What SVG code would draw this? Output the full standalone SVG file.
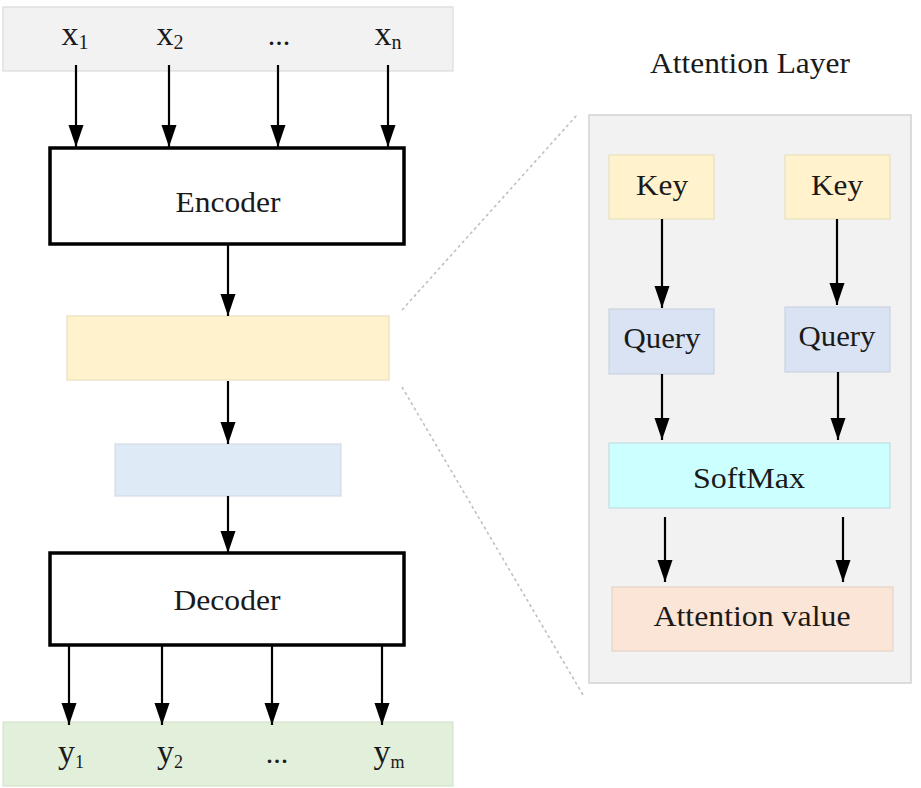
<svg xmlns="http://www.w3.org/2000/svg" width="921" height="788" viewBox="0 0 921 788">
<defs>
<marker id="arr" markerUnits="userSpaceOnUse" markerWidth="22" markerHeight="16" refX="22" refY="8" orient="auto">
<path d="M0,0.5 L22,8 L0,15.5 z" fill="#000"/>
</marker>
<style>
text{font-family:"Liberation Serif","Times New Roman",serif;fill:#1a1a1a;}
.lbl{font-size:29px;text-anchor:middle;}
.big{font-size:30px;text-anchor:middle;}
.io{font-size:34px;text-anchor:middle;}
.sub{font-size:20px;}
.suby{font-size:18px;}
.thick{fill:#fff;stroke:#000;stroke-width:3.5;}
.con line{stroke:#000;stroke-width:2.2;marker-end:url(#arr);}
.dash{stroke:#c0c0c0;stroke-width:1.6;stroke-dasharray:3,3;fill:none;}
</style>
</defs>
<rect width="921" height="788" fill="#fff"/>

<g id="inputs">
<rect x="3" y="7" width="450" height="64" fill="#f2f2f2" stroke="#dadada" stroke-width="1.2"/>
<text class="io" x="75" y="45">x<tspan class="sub" dy="4">1</tspan></text>
<text class="io" x="170" y="45">x<tspan class="sub" dy="4">2</tspan></text>
<text class="io" x="279" y="45" style="font-size:30px">...</text>
<text class="io" x="388" y="45">x<tspan class="sub" dy="4">n</tspan></text>
</g>

<g id="encoder">
<rect class="thick" x="50" y="148" width="354" height="96"/>
<text class="big" x="228" y="212" textLength="105" lengthAdjust="spacingAndGlyphs">Encoder</text>
</g>

<g id="context">
<rect x="67" y="316" width="322" height="64" fill="#fff2cc" stroke="#e8dfbd" stroke-width="1.2"/>
</g>

<g id="hidden">
<rect x="115" y="444" width="226" height="52" fill="#deeaf6" stroke="#d5dce6" stroke-width="1.2"/>
</g>

<g id="decoder">
<rect class="thick" x="50" y="553" width="354" height="92"/>
<text class="big" x="227" y="610" textLength="107" lengthAdjust="spacingAndGlyphs">Decoder</text>
</g>

<g id="outputs">
<rect x="3" y="722" width="450" height="64" fill="#e2efda" stroke="#d5e3cc" stroke-width="1.2"/>
<text class="io" x="71" y="763">y<tspan class="suby" dy="5">1</tspan></text>
<text class="io" x="170" y="763">y<tspan class="suby" dy="5">2</tspan></text>
<text class="io" x="277" y="763" style="font-size:30px">...</text>
<text class="io" x="389" y="763">y<tspan class="suby" dy="5">m</tspan></text>
</g>

<g id="zoom-lines">
<line class="dash" x1="402" y1="310" x2="577" y2="115"/>
<line class="dash" x1="402" y1="387" x2="583" y2="695"/>
</g>

<g id="title">
<text class="lbl" x="750" y="73" textLength="200" lengthAdjust="spacingAndGlyphs">Attention Layer</text>
</g>

<g id="attention-panel">
<rect x="589" y="115" width="322" height="568" fill="#f2f2f2" stroke="#d2d2d2" stroke-width="1.5"/>
</g>

<g id="key1">
<rect x="609" y="155" width="105" height="64" fill="#fff2cc" stroke="#e8dfbd" stroke-width="1.2"/>
<text class="lbl" x="662" y="195" textLength="52" lengthAdjust="spacingAndGlyphs">Key</text>
</g>
<g id="key2">
<rect x="785" y="155" width="105" height="64" fill="#fff2cc" stroke="#e8dfbd" stroke-width="1.2"/>
<text class="lbl" x="837" y="195" textLength="52" lengthAdjust="spacingAndGlyphs">Key</text>
</g>
<g id="query1">
<rect x="609" y="309" width="105" height="65" fill="#dae3f3" stroke="#ccd3df" stroke-width="1.2"/>
<text class="lbl" x="662" y="348" textLength="77" lengthAdjust="spacingAndGlyphs">Query</text>
</g>
<g id="query2">
<rect x="785" y="307" width="105" height="65" fill="#dae3f3" stroke="#ccd3df" stroke-width="1.2"/>
<text class="lbl" x="837" y="346" textLength="77" lengthAdjust="spacingAndGlyphs">Query</text>
</g>
<g id="softmax">
<rect x="609" y="443" width="281" height="65" fill="#ccffff" stroke="#c3dcdc" stroke-width="1.2"/>
<text class="lbl" x="749" y="488" textLength="112" lengthAdjust="spacingAndGlyphs">SoftMax</text>
</g>
<g id="attention-value">
<rect x="612" y="587" width="281" height="64" fill="#fbe5d6" stroke="#e6d3c6" stroke-width="1.2"/>
<text class="lbl" x="752" y="626" textLength="197" lengthAdjust="spacingAndGlyphs">Attention value</text>
</g>

<g id="connectors" class="con">
<line x1="76" y1="65" x2="76" y2="147"/>
<line x1="169" y1="65" x2="169" y2="147"/>
<line x1="278" y1="65" x2="278" y2="147"/>
<line x1="388" y1="65" x2="388" y2="147"/>
<line x1="228" y1="245" x2="228" y2="316"/>
<line x1="228" y1="381" x2="228" y2="444"/>
<line x1="228" y1="496" x2="228" y2="553"/>
<line x1="69" y1="646" x2="69" y2="725"/>
<line x1="162" y1="646" x2="162" y2="725"/>
<line x1="272" y1="646" x2="272" y2="725"/>
<line x1="382" y1="646" x2="382" y2="725"/>
<line x1="662" y1="219" x2="662" y2="308"/>
<line x1="837" y1="219" x2="837" y2="305"/>
<line x1="662" y1="374" x2="662" y2="440"/>
<line x1="838" y1="372" x2="838" y2="440"/>
<line x1="665" y1="517" x2="665" y2="582"/>
<line x1="843" y1="517" x2="843" y2="582"/>
</g>
</svg>
